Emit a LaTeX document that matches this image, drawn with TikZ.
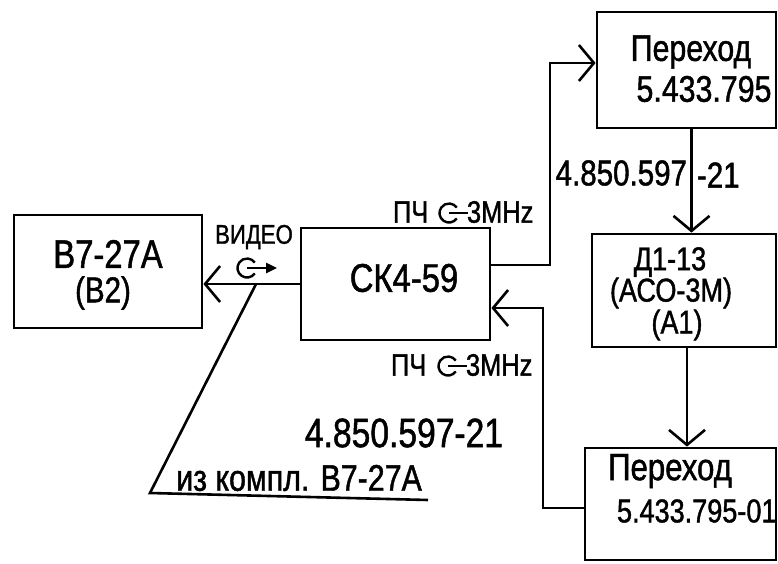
\documentclass[tikz,border=0pt]{standalone}
\usepackage{fontspec}
\setmainfont[FakeStretch=0.82,FakeBold=1.2]{Liberation Sans}
\usetikzlibrary{arrows.meta,calc}
\newcommand\fsz[1]{\fontsize{#1}{#1}\selectfont}
\begin{document}
\begin{tikzpicture}[x=1pt,y=-1pt,
  line width=2.6pt,
  box/.style={draw,rectangle,line width=2.8pt,inner sep=0pt},
  txt/.style={inner sep=0pt,outer sep=0pt},
  arr/.style={-{Straight Barb[length=15pt,width=36pt,line width=2.6pt]}},
  gsym/.pic={\draw[line width=2.4pt] (35:9.5) arc[start angle=35,end angle=325,radius=9.5];
             \draw[line width=2.4pt] (0,0) -- (#1,0);},
]
\useasboundingbox (0,0) rectangle (778,564);
\clip (0,0) rectangle (778,564);
% boxes
\node[box,minimum width=188pt,minimum height=113pt] (b2) at (108,271.5) {};
\node[box,minimum width=189pt,minimum height=112pt] (ck) at (395.5,284) {};
\node[box,minimum width=179pt,minimum height=116pt] (p1) at (686.5,70) {};
\node[box,minimum width=184pt,minimum height=113pt] (a1) at (684,290.5) {};
\node[box,minimum width=191pt,minimum height=112pt] (p2) at (680.5,504) {};
% box texts
\node[txt] (tb1) at (108,254) {\fsz{40}В7-27А};
\node[txt] (tb2) at (103,293) {\fsz{36}(В2)};
\node[txt] (tck) at (404,278) {\fsz{40}СК4-59};
\node[txt] (tp1) at (691,52) {\fsz{37}Переход};
\node[txt] (tp2) at (704,89) {\fsz{37}5.433.795};
\node[txt] (ta1) at (670,262) {\fsz{33}Д1-13};
\node[txt] (ta2) at (671,293) {\fsz{33}(АСО-3М)};
\node[txt] (ta3) at (677,325) {\fsz{33}(А1)};
\node[txt] (tq1) at (670,471) {\fsz{38}Переход};
\node[txt,anchor=west] (tq2) at (617,511) {\fsz{33}5.433.795-01};
% connectors
\draw[arr] (ck.west) -- (ck.west -| b2.east);
\coordinate (vj) at (256,284);
\coordinate (ul) at (150,493);
\coordinate (ur) at (428,500);
\draw (vj) -- (ul) -- (ur);
\coordinate (t1) at (550,63);
\draw[arr] ([yshift=19pt]ck.east) -| (t1) -- (t1 -| p1.west);
\coordinate (q1) at (543,308);
\draw[arr] ([yshift=-4pt]p2.west) -| (q1) -- (q1 -| ck.east);
\draw[arr] ([xshift=5pt]p1.south) -- ([xshift=5pt]p1.south |- a1.north);
\draw[arr] ([xshift=3pt]a1.south) -- ([xshift=3pt]a1.south |- p2.north);
% labels
\node[txt] (vid) at (254,237) {\fsz{27}ВИДЕО};
\pic at (247,268) {gsym=16};
\draw[-{Triangle[length=11pt,width=10pt]},line width=2.4pt] (258,268) -- (277,268);
\node[txt,anchor=west] (pq1) at (393,212) {\fsz{31}ПЧ};
\pic at (449,213) {gsym=19};
\node[txt,anchor=west] (pq2) at (467,212) {\fsz{31}3MHz};
\node[txt,anchor=west] (pr1) at (391,365) {\fsz{31}ПЧ};
\pic at (448,366) {gsym=19};
\node[txt,anchor=west] (pr2) at (466,365) {\fsz{31}3MHz};
\node[txt,anchor=east] (n1) at (687,173) {\fsz{36}4.850.597};
\node[txt,anchor=west] (n2) at (697,175) {\fsz{36}-21};
\node[txt] (n3) at (404,433) {\fsz{41}4.850.597-21};
\node[txt] (iz) at (299,478) {\fsz{37}из компл. В7-27А};
\end{tikzpicture}
\end{document}
